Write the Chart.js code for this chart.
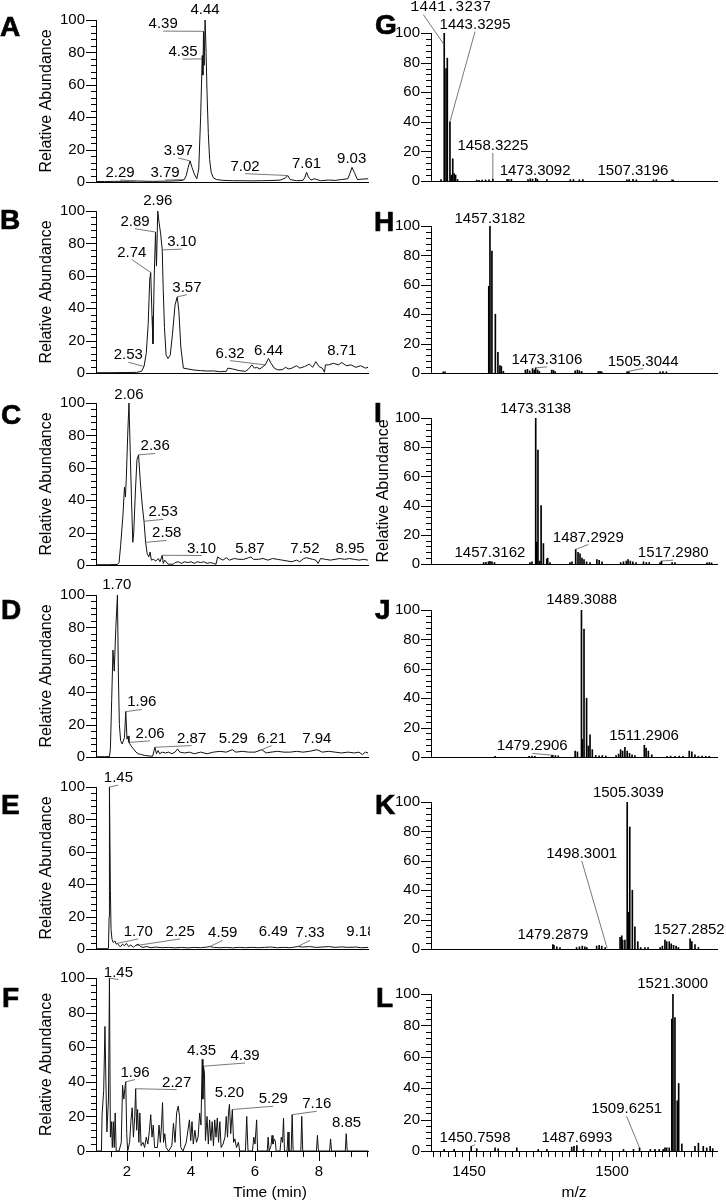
<!DOCTYPE html>
<html>
<head>
<meta charset="utf-8">
<title>LC-MS panels</title>
<script src="https://cdn.jsdelivr.net/npm/chart.js@4.4.1/dist/chart.umd.min.js"></script>
<style>
  html, body { margin: 0; padding: 0; background: #fff; }
  #fig { position: relative; width: 726px; height: 1200px; overflow: hidden; }
  #fig canvas { position: absolute; }
  .tag { position: absolute; font: bold 28px "Liberation Sans", Arial, sans-serif; line-height: 28px; color: #000; -webkit-text-stroke: 0.7px #000; }
</style>
</head>
<body>
<div id="fig"></div>
<script>
// Axis ticks
const yTicks = [0, 20, 40, 60, 80, 100];
const timeTicks = [2, 4, 6, 8];
const mzTicks = [1450, 1500];
const Y_MINOR = 4;
const TIME_MINOR = 0.5;
const MZ_MINOR = 2.5;
const timeRange = [1.03, 9.53];
const mzRange = [1436.7, 1536.7];

// Chromatograms: [time (min), relative abundance]
const ticA = [[1.03,0.3],[1.3,0.3],[1.6,0.4],[1.9,0.4],[2.1,0.5],[2.29,0.6],[2.5,0.5],[2.8,0.4],[3.1,0.5],[3.4,0.6],[3.6,0.8],[3.72,1],[3.79,1.5],[3.85,4],[3.91,9],[3.97,13],[4.03,9],[4.1,5],[4.18,2],[4.24,8],[4.3,40],[4.35,78],[4.37,66],[4.39,93],[4.41,72],[4.44,100],[4.47,80],[4.5,55],[4.54,30],[4.58,14],[4.63,6],[4.7,2.5],[4.8,1.5],[5.0,1],[5.3,0.8],[5.6,0.8],[5.9,0.7],[6.2,0.8],[6.5,0.9],[6.8,1.2],[6.95,2.5],[7.02,4],[7.1,1.5],[7.3,0.8],[7.5,1],[7.56,3],[7.61,6],[7.67,3],[7.75,1.2],[7.85,2],[7.93,1.5],[8.05,0.8],[8.3,1.2],[8.5,1],[8.7,1.5],[8.9,2],[8.96,5],[9.03,9],[9.1,6],[9.2,1.5],[9.35,1.8],[9.53,2]];

const ticB = [[1.03,0.2],[1.5,0.2],[2.0,0.3],[2.3,0.4],[2.45,1],[2.53,4],[2.6,12],[2.66,30],[2.71,58],[2.74,62],[2.78,35],[2.81,18],[2.85,60],[2.89,87],[2.92,66],[2.96,100],[3.0,93],[3.05,86],[3.10,76],[3.13,52],[3.17,28],[3.22,11],[3.28,9],[3.35,11],[3.42,24],[3.5,42],[3.57,47],[3.62,38],[3.68,16],[3.76,3],[3.9,2.5],[4.1,1.8],[4.3,1.5],[4.5,1.2],[4.7,1.3],[4.9,0.8],[5.1,1],[5.15,3],[5.3,2.5],[5.5,1.5],[5.7,1],[5.8,2.5],[5.9,5],[5.98,3],[6.05,3.5],[6.15,2.5],[6.32,5],[6.42,9],[6.5,6],[6.6,3],[6.7,2],[6.85,2],[6.95,3.5],[7.05,2.5],[7.15,3],[7.3,4.5],[7.4,3],[7.55,4],[7.7,5.5],[7.8,3.5],[7.9,7],[8.0,4],[8.1,3],[8.17,0.5],[8.2,5],[8.3,5],[8.45,6],[8.6,5],[8.71,6.5],[8.85,4.5],[9.0,5],[9.15,3.5],[9.3,4.5],[9.45,3],[9.53,3.5]];

const ticC = [[1.03,0.2],[1.4,0.2],[1.7,0.3],[1.75,1.5],[1.8,12],[1.87,30],[1.92,48],[1.95,42],[1.98,55],[2.02,80],[2.06,100],[2.1,70],[2.14,40],[2.18,14],[2.21,20],[2.26,45],[2.31,65],[2.36,68],[2.42,50],[2.48,36],[2.53,27],[2.58,14],[2.63,7],[2.68,5],[2.72,8],[2.76,3],[2.82,3.5],[2.9,2.5],[2.98,4],[3.03,2],[3.1,6],[3.13,1],[3.18,3],[3.28,0.5],[3.45,0.5],[3.5,1.5],[3.6,2],[3.7,1],[3.8,2],[3.9,1.5],[4.0,2],[4.1,1],[4.2,2],[4.3,1.5],[4.4,2],[4.5,1],[4.6,1.5],[4.7,1],[4.78,0.5],[4.83,5],[4.9,4],[5.0,3],[5.1,4.5],[5.2,3],[5.35,4],[5.5,3.5],[5.65,3.5],[5.8,4.5],[5.87,5],[5.95,3.5],[6.1,3.5],[6.25,4],[6.4,3],[6.55,4],[6.7,3.5],[6.85,3],[7.0,2.5],[7.15,2],[7.3,3],[7.4,2],[7.52,4],[7.6,4.5],[7.7,4],[7.8,3.5],[7.9,3],[7.97,1],[8.05,4],[8.2,3.5],[8.35,3],[8.5,3.5],[8.65,4],[8.8,3.5],[8.95,4],[9.1,3.5],[9.25,3],[9.4,3.5],[9.53,3]];

const ticD = [[1.03,0.2],[1.3,0.2],[1.45,0.3],[1.48,5],[1.52,35],[1.56,66],[1.6,53],[1.65,80],[1.70,100],[1.73,50],[1.76,20],[1.8,10],[1.85,8],[1.92,12],[1.96,28],[2.0,11],[2.03,13],[2.06,9],[2.12,7],[2.2,5],[2.28,3],[2.35,2],[2.45,1.5],[2.55,1],[2.75,0.5],[2.8,0.5],[2.87,6],[2.92,2],[2.97,4],[3.02,2],[3.1,3],[3.2,2.5],[3.3,3],[3.4,2],[3.5,3],[3.58,5],[3.65,3],[3.8,2.5],[3.95,3],[4.1,2],[4.3,3],[4.5,2],[4.7,3],[4.9,3.5],[5.1,3],[5.29,4.5],[5.4,3],[5.6,3.5],[5.8,3],[6.0,3],[6.21,4.5],[6.35,2.5],[6.5,3],[6.7,3.5],[6.9,3],[7.1,3],[7.3,3.5],[7.5,3],[7.7,3.5],[7.94,4.5],[8.1,3],[8.3,3.5],[8.5,3],[8.7,2.5],[8.9,3],[9.1,2.5],[9.25,3],[9.35,1.5],[9.45,3],[9.53,2.5]];

const ticE = [[1.03,0.2],[1.35,0.2],[1.42,0.5],[1.44,20],[1.45,100],[1.48,36],[1.5,12],[1.53,6],[1.57,4],[1.62,5],[1.66,3],[1.70,3.5],[1.75,2],[1.8,1.5],[1.86,3],[1.92,2],[1.98,3.5],[2.05,1.5],[2.12,2.5],[2.2,1],[2.25,2],[2.35,3],[2.42,1.5],[2.5,1],[2.6,1.5],[2.75,0.8],[2.9,1.2],[3.1,0.8],[3.3,1],[3.5,0.7],[3.7,1],[3.9,0.7],[4.1,1],[4.3,0.8],[4.5,1.2],[4.59,1.5],[4.7,1],[4.9,0.8],[5.1,1],[5.3,0.7],[5.5,1],[5.7,0.8],[5.9,1],[6.1,0.8],[6.3,1],[6.49,1.2],[6.7,0.8],[6.9,1],[7.1,0.8],[7.33,1.5],[7.5,1.2],[7.7,1.5],[7.9,1],[8.1,1.2],[8.3,1.5],[8.5,1],[8.7,1.3],[8.9,1],[9.18,1.2],[9.3,0.8],[9.53,1]];

const ticF = [[1.03,0],[1.2,0],[1.22,21],[1.27,35],[1.31,72],[1.34,40],[1.37,11],[1.42,30],[1.45,100],[1.48,8],[1.51,17],[1.54,2],[1.57,17],[1.6,2],[1.63,22],[1.66,0],[1.75,0],[1.82,5],[1.86,38],[1.9,30],[1.93,36],[1.96,40],[1.99,10],[2.02,0],[2.08,5],[2.12,17],[2.16,25],[2.2,8],[2.24,20],[2.27,36],[2.3,12],[2.33,24],[2.37,5],[2.4,22],[2.44,3],[2.5,5],[2.55,2],[2.6,8],[2.65,4],[2.7,12],[2.74,21],[2.78,8],[2.82,15],[2.86,2],[2.95,2],[3.0,15],[3.04,5],[3.08,16],[3.11,28],[3.14,5],[3.18,10],[3.22,2],[3.3,0],[3.4,3],[3.45,16],[3.5,5],[3.55,22],[3.6,26],[3.64,20],[3.68,2],[3.75,0],[3.85,5],[3.95,18],[3.99,6],[4.03,17],[4.07,4],[4.12,12],[4.17,5],[4.22,8],[4.27,22],[4.31,15],[4.35,53],[4.37,30],[4.39,49],[4.42,45],[4.45,6],[4.5,20],[4.54,4],[4.58,18],[4.62,6],[4.66,17],[4.7,3],[4.74,18],[4.78,8],[4.82,19],[4.86,5],[4.9,17],[4.94,2],[5.0,4],[5.06,8],[5.1,20],[5.14,8],[5.17,22],[5.2,27],[5.24,10],[5.29,24],[5.33,5],[5.37,7],[5.42,2],[5.48,5],[5.52,0],[5.7,0],[5.74,20],[5.78,0],[5.92,0],[5.96,8],[6.0,4],[6.05,18],[6.08,0],[6.38,0],[6.41,8],[6.44,0],[6.5,3],[6.53,9],[6.56,4],[6.6,7],[6.63,6],[6.66,0],[6.78,0],[6.82,8],[6.86,5],[6.89,19],[6.92,0],[7.0,0],[7.03,11],[7.06,0],[7.13,0],[7.16,21],[7.19,0],[7.43,0],[7.46,20],[7.49,0],[7.92,0],[7.95,9],[7.98,0],[8.33,0],[8.36,7],[8.39,0],[8.82,0],[8.85,10],[8.88,0],[9.53,0]];

// Mass spectra: [m/z, relative abundance]
const msG = [[1440.2,1],[1441.3237,100],[1441.95,76],[1442.4,83],[1443.3295,40],[1443.8,4],[1444.3,15],[1444.8,5],[1445.3,4],[1446.0,1],[1452.7,0.6],[1453.5,0.5],[1454.6,0.6],[1455.8,0.7],[1457.0,0.8],[1458.3225,1.3],[1463.3,1.2],[1463.9,1],[1464.8,1.2],[1470.6,1],[1471.4,1.5],[1472.2,1.3],[1473.3092,1.8],[1473.9,1],[1477.2,1],[1485.4,0.9],[1486.5,1],[1488.6,0.8],[1489.8,1],[1505.2,0.8],[1506.0,1],[1507.3196,1.2],[1508.5,0.8],[1514.5,0.8],[1515.5,0.9],[1521.0,0.8],[1521.4,0.6]];

const msH = [[1441.0,0.8],[1441.6,0.8],[1456.9,59],[1457.3182,100],[1458.0,83],[1459.2,40],[1460.1,14],[1460.8,5],[1461.3,4.5],[1462.0,1.2],[1469.7,2],[1470.4,2.5],[1471.2,1.5],[1472.2,3],[1472.8,2],[1473.3106,3.5],[1474.0,2],[1474.6,1],[1478.9,2],[1479.5,1.8],[1480.1,1],[1487.1,1.5],[1487.9,2],[1488.6,1.5],[1489.4,1],[1495.2,1],[1495.8,1.2],[1496.4,0.8],[1505.3044,1],[1505.9,0.8],[1516.8,0.8],[1517.8,1],[1519.0,0.8]];

const msI = [[1455.1,1],[1455.9,1.2],[1456.8,1.5],[1457.3162,1.8],[1458.0,1.5],[1458.9,1],[1471.3,1],[1472.0,1.5],[1473.3138,100],[1473.7,15],[1474.1,78],[1474.7,2],[1475.2,40],[1476.0,14],[1477.2,3.4],[1477.5,4],[1478.3,1],[1485.3,1],[1486.0,1.5],[1487.2929,10],[1488.1,8],[1488.8,7],[1489.5,4],[1490.2,3],[1491.1,1.5],[1492.3,1],[1494.7,3],[1495.5,2.5],[1496.5,1.5],[1503.0,1],[1504.0,1.5],[1505.0,2],[1505.6,3],[1506.4,2],[1507.3,1.5],[1508.4,1],[1511.0,1.5],[1512.0,1],[1513.0,1],[1516.8,1],[1517.2980,2],[1521.0,1],[1522.0,1],[1533.2,0.8],[1534.0,1],[1534.8,0.8]];

const msJ = [[1459.1,0.5],[1471.0,0.5],[1472.0,0.7],[1473.0,0.5],[1478.9,1],[1479.2906,1.2],[1480.2,1],[1481.2,0.8],[1487.1,4],[1487.9,3.5],[1489.3088,100],[1489.6,12],[1490.2,87],[1491.1,40],[1491.7,7.5],[1492.3,15],[1493.1,5],[1494.3,1],[1495.5,0.8],[1496.6,1],[1497.8,0.7],[1501.4,1],[1502.3,2],[1503.0,5],[1503.7,4],[1504.5,6.5],[1505.3,4],[1506.1,2.5],[1507.0,1.5],[1508.0,1],[1511.2906,8],[1511.9,6],[1512.7,4],[1513.9,1.5],[1519.2,0.5],[1520.5,0.6],[1522.0,0.5],[1523.5,0.6],[1524.8,0.5],[1527.0,4],[1527.9,3.5],[1529.0,1.5],[1530.2,0.5],[1531.5,0.6],[1532.8,0.5],[1534.0,0.5]];

const msK = [[1479.2879,3],[1479.7,2.5],[1480.7,1.5],[1481.8,1],[1487.6,1],[1488.6,1.5],[1489.6,2],[1490.5,1.5],[1491.2,1],[1494.6,2],[1495.5,2.5],[1496.4,2],[1497.6,1],[1502.8,8],[1503.4,9],[1503.7,6],[1504.5,6],[1505.3039,100],[1505.8,25],[1506.2,83],[1507.1,40],[1508.0,15],[1509.0,5],[1510.0,1],[1511.5,1],[1512.6,1],[1516.8,1],[1517.6,2],[1518.5,6],[1519.1,5],[1520.0,5],[1520.7,3.5],[1521.5,2.5],[1522.4,2],[1523.2,1],[1527.2852,7],[1527.9,5],[1529.0,3],[1530.2,1]];

const msL = [[1441.3,1],[1444.8,1],[1450.7598,3],[1452.7,1.5],[1459.1,2],[1460.2,1.5],[1466.7,2],[1474.2,1],[1477.2,1],[1485.9,2.5],[1486.7,3],[1487.6993,3.5],[1490.0,1],[1495.8,1],[1504.0,1],[1507.5,1],[1509.6251,2],[1513.4,1],[1515.0,1],[1516.5,1],[1517.9,1],[1518.5,2],[1519.1,2],[1520.0,2],[1520.9,84],[1521.3000,100],[1522.0,85],[1522.8,32],[1523.3,43],[1524.4,4.5],[1529.0,3],[1530.2,5],[1531.9,3],[1533.1,2],[1534.3,3],[1535.2,1.5]];

// Peak annotations: peak (x, y), label anchor (lx, ly), lead = draw leader line
const pkA = [
  {x: 4.44, y: 100, lx: 4.44, ly: 104},
  {x: 4.39, y: 93, lx: 3.13, ly: 95, lead: 1},
  {x: 4.35, y: 76, lx: 3.75, ly: 77.7, lead: 1},
  {x: 3.97, y: 13, lx: 3.60, ly: 16.7, lead: 1},
  {x: 2.29, y: 0.6, lx: 1.78, ly: 3.1, lead: 1},
  {x: 3.79, y: 1.5, lx: 3.19, ly: 3.1, lead: 1},
  {x: 7.02, y: 4, lx: 5.69, ly: 7, lead: 1},
  {x: 7.61, y: 6, lx: 7.61, ly: 8.9},
  {x: 9.03, y: 9, lx: 9.02, ly: 11.8}
];
const pkB = [
  {x: 2.96, y: 100, lx: 2.96, ly: 104},
  {x: 2.89, y: 87, lx: 2.25, ly: 90.9, lead: 1},
  {x: 2.74, y: 62, lx: 2.15, ly: 71.9, lead: 1},
  {x: 3.10, y: 76, lx: 3.71, ly: 78.3, lead: 1},
  {x: 3.57, y: 47, lx: 3.87, ly: 50.2, lead: 1},
  {x: 2.53, y: 4, lx: 2.04, ly: 8.5, lead: 1},
  {x: 6.32, y: 5, lx: 5.22, ly: 9.5, lead: 1},
  {x: 6.44, y: 9, lx: 6.42, ly: 11.4},
  {x: 8.71, y: 6.5, lx: 8.71, ly: 11.4}
];
const pkC = [
  {x: 2.06, y: 100, lx: 2.06, ly: 102.7},
  {x: 2.36, y: 68, lx: 2.88, ly: 70.7, lead: 1},
  {x: 2.53, y: 27, lx: 3.13, ly: 30, lead: 1},
  {x: 2.58, y: 14, lx: 3.24, ly: 17, lead: 1},
  {x: 3.10, y: 6, lx: 4.33, ly: 7.7, lead: 1},
  {x: 5.87, y: 5, lx: 5.84, ly: 7.7},
  {x: 7.52, y: 4, lx: 7.56, ly: 7.7},
  {x: 8.95, y: 4, lx: 8.97, ly: 7.7}
];
const pkD = [
  {x: 1.70, y: 100, lx: 1.68, ly: 103.9},
  {x: 1.96, y: 28, lx: 2.46, ly: 31.2, lead: 1},
  {x: 2.06, y: 9, lx: 2.72, ly: 11.8, lead: 1},
  {x: 2.87, y: 6, lx: 4.02, ly: 8.9, lead: 1},
  {x: 5.29, y: 4.5, lx: 5.32, ly: 8.9},
  {x: 6.21, y: 4.5, lx: 6.52, ly: 8.9, lead: 1},
  {x: 7.94, y: 4.5, lx: 7.93, ly: 8.9}
];
const pkE = [
  {x: 1.45, y: 100, lx: 1.73, ly: 103, lead: 1},
  {x: 1.70, y: 3.5, lx: 2.35, ly: 8.1, lead: 1},
  {x: 2.25, y: 2, lx: 3.66, ly: 8.1, lead: 1},
  {x: 4.59, y: 1.5, lx: 4.99, ly: 7.2, lead: 1},
  {x: 6.49, y: 1.2, lx: 6.57, ly: 8.1},
  {x: 7.33, y: 1.5, lx: 7.72, ly: 7.2, lead: 1},
  {x: 9.18, y: 1.2, lx: 9.31, ly: 8.1}
];
const pkF = [
  {x: 1.45, y: 100, lx: 1.73, ly: 100.8, lead: 1},
  {x: 1.96, y: 40, lx: 2.25, ly: 43, lead: 1},
  {x: 2.27, y: 36, lx: 3.55, ly: 37.2, lead: 1},
  {x: 4.35, y: 53, lx: 4.33, ly: 55.5},
  {x: 4.39, y: 49, lx: 5.69, ly: 52.6, lead: 1},
  {x: 5.20, y: 27, lx: 5.20, ly: 31.4},
  {x: 5.29, y: 24, lx: 6.57, ly: 27.6, lead: 1},
  {x: 7.16, y: 21, lx: 7.93, ly: 24.7, lead: 1},
  {x: 8.85, y: 10, lx: 8.86, ly: 14}
];
const pkG = [
  {x: 1441.3237, y: 92, lx: 1443.6, ly: 115, mono: 1, lead: 1, sx: 1434.0, sy: 112.5},
  {x: 1443.3295, y: 40, lx: 1452.1, ly: 103, lead: 1},
  {x: 1458.3225, y: 1.3, lx: 1458.3225, ly: 21, lead: 1},
  {x: 1473.3092, y: 1.8, lx: 1473.1, ly: 3.8},
  {x: 1507.3196, y: 1.2, lx: 1507.3, ly: 3.8}
];
const pkH = [
  {x: 1457.3182, y: 100, lx: 1457.3182, ly: 102.3},
  {x: 1473.3106, y: 3.5, lx: 1477.2, ly: 6.2, lead: 1},
  {x: 1505.3044, y: 1, lx: 1510.9, ly: 5.1, lead: 1}
];
const pkI = [
  {x: 1473.3138, y: 100, lx: 1473.3138, ly: 103.4},
  {x: 1457.3162, y: 1.8, lx: 1457.3, ly: 4.7},
  {x: 1487.2929, y: 10, lx: 1491.7, ly: 15.4, lead: 1},
  {x: 1517.2980, y: 2, lx: 1521.4, ly: 4.7, lead: 1}
];
const pkJ = [
  {x: 1489.3088, y: 100, lx: 1489.4, ly: 104.3},
  {x: 1479.2906, y: 1.2, lx: 1472.1, ly: 4.5, lead: 1},
  {x: 1511.2906, y: 8, lx: 1511.2, ly: 11.9}
];
const pkK = [
  {x: 1505.3039, y: 100, lx: 1505.7, ly: 103.4},
  {x: 1498.3001, y: 0.5, lx: 1489.4, ly: 62, lead: 1},
  {x: 1479.2879, y: 3, lx: 1479.3, ly: 6.8},
  {x: 1527.2852, y: 7, lx: 1527.0, ly: 10}
];
const pkL = [
  {x: 1521.3000, y: 100, lx: 1521.2, ly: 104},
  {x: 1450.7598, y: 3, lx: 1452.1, ly: 5.9, lead: 1},
  {x: 1487.6993, y: 3.5, lx: 1487.7, ly: 5.9},
  {x: 1509.6251, y: 2, lx: 1505.1, ly: 24, lead: 1}
];

// Panel layout (plot top/bottom in page pixels)
const panels = [
  {id: 'A', kind: 'tic', data: ticA, peaks: pkA, top: 20, bottom: 192},
  {id: 'B', kind: 'tic', data: ticB, peaks: pkB, top: 211, bottom: 383},
  {id: 'C', kind: 'tic', data: ticC, peaks: pkC, top: 403, bottom: 575},
  {id: 'D', kind: 'tic', data: ticD, peaks: pkD, top: 595, bottom: 767},
  {id: 'E', kind: 'tic', data: ticE, peaks: pkE, top: 787, bottom: 959},
  {id: 'F', kind: 'tic', data: ticF, peaks: pkF, top: 978, bottom: 1151, last: true, xTitle: 'Time (min)', xTitleAt: 0.64},
  {id: 'G', kind: 'ms', data: msG, peaks: pkG, top: 33, bottom: 191},
  {id: 'H', kind: 'ms', data: msH, peaks: pkH, top: 226, bottom: 383},
  {id: 'I', kind: 'ms', data: msI, peaks: pkI, top: 418, bottom: 574, yTitle: true},
  {id: 'J', kind: 'ms', data: msJ, peaks: pkJ, top: 610, bottom: 767},
  {id: 'K', kind: 'ms', data: msK, peaks: pkK, top: 802, bottom: 959},
  {id: 'L', kind: 'ms', data: msL, peaks: pkL, top: 994, bottom: 1151, last: true, xTitle: 'm/z', xTitleAt: 0.5}
];

// Panel letters: left edge and baseline
const letters = [
  ['A', 0, 37], ['B', 0, 230], ['C', 1, 425], ['D', 1, 620], ['E', 1, 815], ['F', 2, 1008],
  ['G', 375, 35], ['H', 374, 232], ['I', 374, 423], ['J', 375, 620], ['K', 375, 815], ['L', 376, 1008]
];

const SANS = '"Liberation Sans", Arial, sans-serif';
const MONO = '"Liberation Mono", "Courier New", monospace';
Chart.defaults.font.family = SANS;
Chart.defaults.color = '#000';

// Minor ticks, x titles and peak labels
const panelDecor = {
  id: 'panelDecor',
  afterDraw(chart, args, o) {
    const {ctx, chartArea: a, scales: {x, y}} = chart;
    ctx.save();
    ctx.strokeStyle = '#000';
    ctx.lineWidth = 1;
    ctx.beginPath();
    for (let v = 0; v <= 100; v += Y_MINOR) {
      const py = Math.round(y.getPixelForValue(v)) + 0.5;
      const len = yTicks.includes(v) ? 10 : 5;
      ctx.moveTo(a.left - len, py);
      ctx.lineTo(a.left, py);
    }
    if (o.xMinor) {
      const start = Math.ceil(x.min / o.xMinor) * o.xMinor;
      for (let v = start; v <= x.max; v += o.xMinor) {
        const px = Math.round(x.getPixelForValue(v)) + 0.5;
        const major = o.xMajor.some(m => Math.abs(m - v) < 1e-6);
        ctx.moveTo(px, a.bottom);
        ctx.lineTo(px, a.bottom + (major ? 10 : 6));
      }
    }
    ctx.stroke();

    if (o.xTitle) {
      ctx.fillStyle = '#000';
      ctx.font = '15.5px ' + SANS;
      ctx.textAlign = 'center';
      ctx.textBaseline = 'alphabetic';
      ctx.fillText(o.xTitle, a.left + o.xTitleAt * (a.right - a.left), chart.height - 3);
    }

    // peak labels with leader lines
    ctx.strokeStyle = '#555';
    ctx.lineWidth = 0.8;
    ctx.fillStyle = '#000';
    ctx.textAlign = 'center';
    ctx.textBaseline = 'alphabetic';
    o.peaks.forEach(pk => {
      const px = x.getPixelForValue(pk.x), py = y.getPixelForValue(pk.y);
      const lx = x.getPixelForValue(pk.lx), ly = y.getPixelForValue(pk.ly);
      if (pk.lead) {
        const sx = pk.sx != null ? x.getPixelForValue(pk.sx) : lx;
        const sy = pk.sy != null ? y.getPixelForValue(pk.sy) : ly + 3;
        ctx.beginPath();
        ctx.moveTo(sx, sy);
        ctx.lineTo(px, py);
        ctx.stroke();
      }
      ctx.font = '15px ' + (pk.mono ? MONO : SANS);
      ctx.fillText(pk.x.toFixed(o.digits), lx, ly);
    });
    ctx.restore();
  }
};

const fig = document.getElementById('fig');

function makePanel(p) {
  const isTic = p.kind === 'tic';
  const colX = isTic ? 0 : 370;
  const colW = isTic ? 370 : 356;
  const axisW = isTic ? 96 : 61;
  const padR = isTic ? 2 : 9;
  const padT = isTic ? 24 : 33;
  const padB = p.last ? 0 : 10;
  const canvasTop = p.top - padT;
  const xAxisH = p.last ? 1200 - p.bottom : 0;
  const h = p.last ? 1200 - canvasTop : p.bottom + padB - canvasTop;

  const cv = document.createElement('canvas');
  cv.width = colW;
  cv.height = h;
  cv.style.left = colX + 'px';
  cv.style.top = canvasTop + 'px';
  fig.appendChild(cv);

  const range = isTic ? timeRange : mzRange;
  const xt = isTic ? timeTicks : mzTicks;
  const dataset = {
    data: p.data.map(d => ({x: d[0], y: d[1]})),
    borderColor: '#111',
    backgroundColor: '#000'
  };
  if (isTic) {
    Object.assign(dataset, {borderWidth: 1, pointRadius: 0, tension: 0, fill: false});
  } else {
    Object.assign(dataset, {borderWidth: 0, barThickness: 1});
  }

  new Chart(cv, {
    type: isTic ? 'line' : 'bar',
    data: {datasets: [dataset]},
    options: {
      responsive: false,
      animation: false,
      devicePixelRatio: 1,
      layout: {padding: {top: padT, right: padR, bottom: padB, left: 0}},
      plugins: {
        legend: {display: false},
        tooltip: {enabled: false},
        panelDecor: {
          peaks: p.peaks,
          digits: isTic ? 2 : 4,
          xMinor: p.last ? (isTic ? TIME_MINOR : MZ_MINOR) : 0,
          xMajor: xt,
          xTitle: p.xTitle,
          xTitleAt: p.xTitleAt
        }
      },
      scales: {
        x: {
          type: 'linear',
          min: range[0],
          max: range[1],
          offset: false,
          afterBuildTicks: s => { s.ticks = xt.map(v => ({value: v})); },
          afterFit: s => { s.height = xAxisH; },
          grid: {display: false, drawTicks: false},
          border: {display: true, color: '#000', width: 1},
          ticks: {display: !!p.last, padding: 12, autoSkip: false, maxRotation: 0,
                  font: {size: 15}, color: '#000', callback: v => String(v)}
        },
        y: {
          min: 0,
          max: 100,
          afterBuildTicks: s => { s.ticks = yTicks.map(v => ({value: v})); },
          afterFit: s => { s.width = axisW; },
          grid: {display: false, drawTicks: false},
          border: {display: true, color: '#000', width: 1},
          ticks: {padding: 11, autoSkip: false, font: {size: 15}, color: '#000', callback: v => String(v)},
          title: {
            display: isTic || !!p.yTitle,
            text: 'Relative Abundance',
            color: '#000',
            font: {size: 16},
            padding: {top: isTic ? 37 : 4, bottom: 0}
          }
        }
      }
    },
    plugins: [panelDecor]
  });
}

panels.forEach(makePanel);

letters.forEach(([txt, left, base]) => {
  const d = document.createElement('div');
  d.className = 'tag';
  d.textContent = txt;
  d.style.left = left + 'px';
  d.style.top = (base - 24) + 'px';
  fig.appendChild(d);
});
</script>
</body>
</html>
